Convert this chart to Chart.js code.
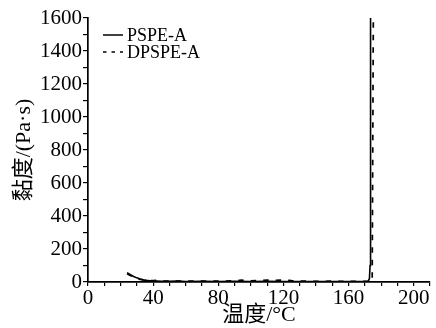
<!DOCTYPE html>
<html>
<head>
<meta charset="utf-8">
<script src="https://cdn.jsdelivr.net/npm/chart.js@4.4.1/dist/chart.umd.min.js"></script>
<style>
  html, body { margin: 0; padding: 0; background: #fff; }
  #wrap { width: 436px; height: 328px; }
</style>
</head>
<body>
<div id="wrap"><canvas id="chart" width="436" height="328"></canvas></div>
<script>
// Temperature (°C) and viscosity (Pa·s)
const psTemp = [24, 26, 28, 30, 32, 34, 36, 38, 40, 45, 50, 55, 60, 70, 80, 90, 100, 110, 120, 130, 140, 150, 160, 170, 172, 172.8, 173.2, 173.5];
const psVisc = [57, 45, 33, 25, 18, 13, 10, 8, 7, 5, 4, 5, 3, 4, 3, 4, 3, 4, 3, 3, 2, 3, 2, 2, 4, 20, 100, 1600];

const dpTemp = [24, 26, 28, 30, 32, 34, 36, 40, 43, 46, 50, 60, 70, 80, 90, 94, 98, 105, 110, 115, 120, 125, 130, 140, 150, 160, 170, 174.5, 175.2];
const dpVisc = [50, 40, 30, 22, 16, 12, 9, 8, 10, 6, 5, 5, 6, 5, 7, 11, 7, 9, 12, 10, 12, 8, 6, 4, 5, 4, 4, 5, 1600];

const seriesNames = ['PSPE-A', 'DPSPE-A'];
const xTitle = '温度/°C';
const yTitle = '黏度/(Pa·s)';

const toPoints = (xs, ys) => xs.map((x, i) => ({ x: x, y: ys[i] }));

const serif = '"Liberation Serif", "Noto Sans CJK SC", serif';

// small legend drawn inside the plot, top left
const insideLegend = {
    id: 'insideLegend',
    afterDraw(chart) {
        const { ctx, chartArea } = chart;
        ctx.save();
        ctx.font = '18px ' + serif;
        ctx.textBaseline = 'middle';
        ctx.fillStyle = '#000';
        ctx.strokeStyle = '#000';
        ctx.lineWidth = 1.5;
        chart.data.datasets.forEach((ds, i) => {
            const x = chartArea.left + 15;
            const y = chartArea.top + 17 + i * 17;
            ctx.beginPath();
            ctx.setLineDash(ds.borderDash && ds.borderDash.length ? [3.5, 5] : []);
            ctx.moveTo(x, y);
            ctx.lineTo(x + 20, y);
            ctx.stroke();
            ctx.setLineDash([]);
            ctx.fillText(ds.label, x + 24, y + 1);
        });
        ctx.restore();
    }
};

new Chart(document.getElementById('chart').getContext('2d'), {
    type: 'line',
    data: {
        datasets: [{
            label: seriesNames[0],
            data: toPoints(psTemp, psVisc),
            borderColor: '#000',
            borderWidth: 1.6,
            pointRadius: 0,
            tension: 0
        }, {
            label: seriesNames[1],
            data: toPoints(dpTemp, dpVisc),
            borderColor: '#000',
            borderWidth: 1.7,
            borderDash: [5.5, 7],
            pointRadius: 0,
            tension: 0
        }]
    },
    options: {
        responsive: false,
        animation: false,
        devicePixelRatio: 1,
        layout: { padding: { top: 18, right: 6, left: 0, bottom: 0 } },
        plugins: {
            legend: { display: false },
            tooltip: { enabled: false }
        },
        scales: {
            x: {
                type: 'linear',
                min: 0,
                max: 210,
                border: { color: '#000', width: 1.7 },
                grid: { drawOnChartArea: false, tickLength: 4, color: '#000', lineWidth: 1.2 },
                ticks: {
                    stepSize: 10,
                    autoSkip: false,
                    maxRotation: 0,
                    padding: 0,
                    color: '#000',
                    font: { family: serif, size: 21 },
                    callback: v => (v % 40 === 0 ? v : '')
                },
                title: {
                    display: true,
                    text: xTitle,
                    color: '#000',
                    font: { family: serif, size: 22 },
                    padding: { top: 0, bottom: 0 }
                },
                afterFit: s => { s.height = 46; }
            },
            y: {
                min: 0,
                max: 1600,
                border: { color: '#000', width: 1.7 },
                grid: { drawOnChartArea: false, tickLength: 5, color: '#000', lineWidth: 1.2 },
                ticks: {
                    stepSize: 100,
                    autoSkip: false,
                    padding: 1,
                    color: '#000',
                    font: { family: serif, size: 21 },
                    callback: v => (v % 200 === 0 ? v : '')
                },
                title: {
                    display: true,
                    text: yTitle,
                    color: '#000',
                    font: { family: serif, size: 22 },
                    padding: { top: 11, bottom: 0 }
                },
                afterFit: s => { s.width = 88; }
            }
        }
    },
    plugins: [insideLegend]
});
</script>
</body>
</html>
